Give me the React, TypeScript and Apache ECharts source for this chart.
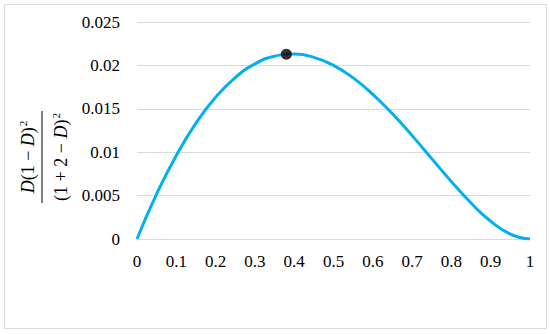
import React, { useEffect, useRef } from "react";
import * as echarts from "echarts";

const dValues = [0, 0.05, 0.1, 0.15, 0.2, 0.25, 0.3, 0.35, 0.4, 0.45, 0.5, 0.55, 0.6, 0.65, 0.7, 0.75, 0.8, 0.85, 0.9, 0.95, 1];
const fValues = [0, 0.00519, 0.00963, 0.01334, 0.01633, 0.0186, 0.02017, 0.02106, 0.0213, 0.02093, 0.02, 0.01856, 0.01667, 0.01442, 0.01191, 0.00926, 0.00661, 0.00414, 0.00204, 0.00057, 0];
const peakPoint = [0.38, 0.02128];
const yTitleNumerator = "{n|}{i|D}{n|(1 − }{i|D}{n|)}{s|2}";
const yTitleDenominator = "{n|(1 + 2 − }{i|D}{n|)}{s|2}";

const FONT = "Liberation Serif";

export default function App() {
  const ref = useRef<HTMLDivElement>(null);
  useEffect(() => {
    document.body.style.margin = "0";
    const chart = echarts.init(ref.current!, null, { renderer: "svg" });
    const lineData = dValues.map((d, i) => [d, fValues[i]]);
    const rich = {
      n: { fontFamily: FONT, fontSize: 18, color: "#000", lineHeight: 22 },
      i: { fontStyle: "italic", fontFamily: FONT, fontSize: 18, color: "#000", lineHeight: 22 },
      s: { fontFamily: FONT, fontSize: 11, color: "#000", verticalAlign: "top", lineHeight: 12, padding: [0, 0, 0, 1] },
    };
    const labelRich = { a: { fontFamily: FONT, fontSize: 17, color: "#000" } };
    chart.setOption({
      animation: false,
      textStyle: { fontFamily: FONT },
      grid: { left: 137, right: 20, top: 22, bottom: 95 },
      xAxis: {
        type: "value",
        min: 0,
        max: 1,
        interval: 0.1,
        axisLine: { show: true, lineStyle: { color: "#d9d9d9", width: 1 } },
        axisTick: { show: false },
        splitLine: { show: false },
        axisLabel: {
          color: "#000",
          fontFamily: FONT,
          fontSize: 17,
          margin: 14,
          formatter: (v: number) => "{a|" + String(v) + "}",
          rich: labelRich,
        },
      },
      yAxis: {
        type: "value",
        min: 0,
        max: 0.025,
        interval: 0.005,
        axisLine: { show: false },
        axisTick: { show: false },
        splitLine: { show: true, lineStyle: { color: "#d9d9d9", width: 1 } },
        axisLabel: {
          color: "#000",
          fontFamily: FONT,
          fontSize: 17,
          margin: 17,
          formatter: (v: number) => "{a|" + String(Number(v.toFixed(4))) + "}",
          rich: labelRich,
        },
      },
      series: [
        {
          type: "line",
          data: lineData,
          smooth: 0.5,
          showSymbol: false,
          symbol: "none",
          lineStyle: { color: "#00B0F0", width: 3 },
          z: 2,
        },
        {
          type: "scatter",
          data: [peakPoint],
          symbol: "circle",
          symbolSize: 11,
          itemStyle: { color: "#000" },
          z: 3,
        },
      ],
      graphic: [
        {
          type: "rect",
          shape: { x: 4.5, y: 4.5, width: 542, height: 324 },
          style: { fill: "none", stroke: "#d9d9d9", lineWidth: 1 },
          silent: true,
        },
        {
          type: "group",
          x: 42,
          y: 157,
          rotation: Math.PI / 2,
          children: [
            {
              type: "text",
              x: 0,
              y: -14,
              style: {
                text: yTitleNumerator,
                rich,
                fontFamily: FONT,
                fontSize: 18,
                fill: "#000",
                align: "center",
                verticalAlign: "middle",
              },
            },
            {
              type: "line",
              shape: { x1: -46, y1: 0, x2: 46, y2: 0 },
              style: { stroke: "#000", lineWidth: 1 },
            },
            {
              type: "text",
              x: 0,
              y: 19,
              style: {
                text: yTitleDenominator,
                rich,
                fontFamily: FONT,
                fontSize: 18,
                fill: "#000",
                align: "center",
                verticalAlign: "middle",
              },
            },
          ],
        },
      ],
    });
    return () => chart.dispose();
  }, []);
  return <div ref={ref} style={{ width: 550, height: 334 }} />;
}
